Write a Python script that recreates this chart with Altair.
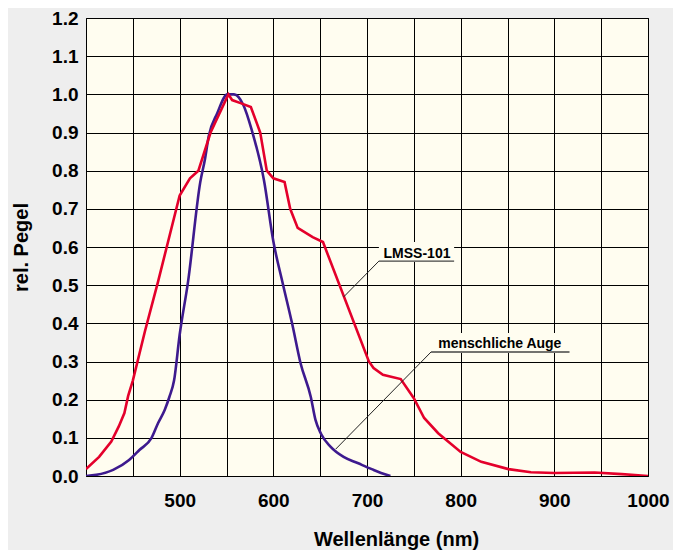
import altair as alt
import pandas as pd

# LMSS-101 curve (red)
lmss_x = [400, 414, 427, 435, 441, 445, 450, 463, 477, 500, 511, 520, 533, 552, 556, 565, 576,
          586, 593, 600, 612, 618, 626, 642, 653, 702, 707, 717, 736, 750, 761, 776, 800, 822,
          851, 875, 900, 943, 972, 1000]
lmss_y = [0.018, 0.05, 0.09, 0.13, 0.165, 0.21, 0.25, 0.38, 0.51, 0.735, 0.78, 0.80, 0.90, 1.0,
          0.985, 0.977, 0.967, 0.90, 0.80, 0.78, 0.77, 0.70, 0.65, 0.626, 0.613, 0.30, 0.283,
          0.265, 0.254, 0.204, 0.152, 0.112, 0.063, 0.037, 0.018, 0.010, 0.008, 0.009, 0.005, 0.0]

# human eye curve (purple)
eye_x = [400, 411, 429, 446, 457, 470, 477, 484, 489, 494, 500, 509, 522, 527, 531, 540, 551,
         558, 568, 577, 590, 600, 610, 620, 629, 640, 645, 651, 661, 675, 690, 705, 715, 725]
eye_y = [0.0, 0.003, 0.016, 0.042, 0.068, 0.10, 0.139, 0.173, 0.207, 0.25, 0.37, 0.51, 0.77,
         0.83, 0.89, 0.95, 1.0, 1.0, 0.972, 0.906, 0.775, 0.615, 0.505, 0.40, 0.296, 0.207,
         0.147, 0.11, 0.077, 0.05, 0.034, 0.018, 0.008, 0.0]

series_names = ["LMSS-101", "menschliche Auge"]
series_colors = ["#e4002b", "#3d1a8e"]

x_grid = list(range(400, 1001, 50))
y_ticks = [round(i * 0.1, 1) for i in range(13)]

# annotation labels
ann_text = ["LMSS-101", "menschliche Auge"]
ann_tx = [753.4, 841.8]
ann_ty = [0.571, 0.335]
box_x1 = [712.7, 768.4]
box_x2 = [793.0, 916.2]
box_y1 = [0.561, 0.322]
box_y2 = [0.613, 0.375]
under_y = [0.563, 0.325]
lead_x1 = [712.7, 768.4]
lead_y1 = [0.563, 0.325]
lead_x2 = [675.0, 666.7]
lead_y2 = [0.469, 0.0707]

red_df = pd.DataFrame({"x": lmss_x, "y": lmss_y, "s": series_names[0], "o": range(len(lmss_x))})
eye_df = pd.DataFrame({"x": eye_x, "y": eye_y, "s": series_names[1], "o": range(len(eye_x))})
ann = pd.DataFrame({"t": ann_text, "tx": ann_tx, "ty": ann_ty,
                    "bx1": box_x1, "bx2": box_x2, "by1": box_y1, "by2": box_y2,
                    "uy": under_y, "lx1": lead_x1, "ly1": lead_y1, "lx2": lead_x2, "ly2": lead_y2})

FONT = "Liberation Sans"

xs = alt.Scale(domain=[400, 1000], nice=False, zero=False)
ys = alt.Scale(domain=[0, 1.2], nice=False)
cs = alt.Scale(domain=series_names, range=series_colors)

x_axis = alt.Axis(values=x_grid, grid=True, gridColor="#000000", gridWidth=1, gridOpacity=1,
                  ticks=False, tickSize=0, domain=False,
                  labelExpr="(datum.value % 100 == 0 && datum.value > 400) ? datum.value : ''",
                  labelFont=FONT, labelFontWeight="bold", labelFontSize=19, labelColor="#000000",
                  labelBaseline="alphabetic", labelPadding=30, labelFlush=False, labelOverlap=False,
                  title="Wellenlänge (nm)", titleFont=FONT, titleFontWeight="bold", titleFontSize=20,
                  titleColor="#000000", titleX=310, titleY=69, titleBaseline="alphabetic",
                  titleAlign="center")
y_axis = alt.Axis(values=y_ticks, grid=True, gridColor="#000000", gridWidth=1, gridOpacity=1,
                  ticks=False, tickSize=0, domain=False, format=".1f",
                  labelFont=FONT, labelFontWeight="bold", labelFontSize=19, labelColor="#000000",
                  labelPadding=8, labelFlush=False, labelOverlap=False, labelBaseline="middle",
                  title="rel. Pegel", titleFont=FONT, titleFontWeight="bold", titleFontSize=20,
                  titleColor="#000000", titleAngle=270, titleX=-65, titleY=229,
                  titleBaseline="middle", titleAlign="center")

red_line = alt.Chart(red_df).mark_line(strokeWidth=2.6, clip=True).encode(
    x=alt.X("x:Q", scale=xs, axis=x_axis),
    y=alt.Y("y:Q", scale=ys, axis=y_axis),
    color=alt.Color("s:N", scale=cs, legend=None),
    order="o:Q",
)
eye_line = alt.Chart(eye_df).mark_line(strokeWidth=2.6, clip=True, interpolate="monotone").encode(
    x=alt.X("x:Q", scale=xs, axis=x_axis),
    y=alt.Y("y:Q", scale=ys, axis=y_axis),
    color=alt.Color("s:N", scale=cs, legend=None),
    order="o:Q",
)

a = alt.Chart(ann)
boxes = a.mark_rect(color="#fffdf0").encode(
    x=alt.X("bx1:Q", scale=xs, axis=x_axis), x2="bx2",
    y=alt.Y("by1:Q", scale=ys, axis=y_axis), y2="by2")
under = a.mark_rule(color="#444444", strokeWidth=1.4).encode(
    x=alt.X("bx1:Q", scale=xs, axis=x_axis), x2="bx2", y=alt.Y("uy:Q", scale=ys, axis=y_axis))
leads = a.mark_rule(color="#222222", strokeWidth=1).encode(
    x=alt.X("lx1:Q", scale=xs, axis=x_axis), x2="lx2",
    y=alt.Y("ly1:Q", scale=ys, axis=y_axis), y2="ly2")
texts = a.mark_text(font=FONT, fontWeight="bold", fontSize=14, color="#000000",
                    align="center", baseline="alphabetic").encode(
    x=alt.X("tx:Q", scale=xs, axis=x_axis), y=alt.Y("ty:Q", scale=ys, axis=y_axis), text="t:N")

chart = alt.layer(eye_line, red_line, boxes, under, leads, texts).properties(
    width=562, height=458,
    background="#eeeeee",
    autosize=alt.AutoSizeParams(type="none"),
    padding={"left": 78, "top": 10, "right": 25, "bottom": 74},
).configure_view(fill="#fffdf0", stroke="#000000", strokeWidth=1)

chart.save("out.html", embed_options={"renderer": "svg", "actions": False})
